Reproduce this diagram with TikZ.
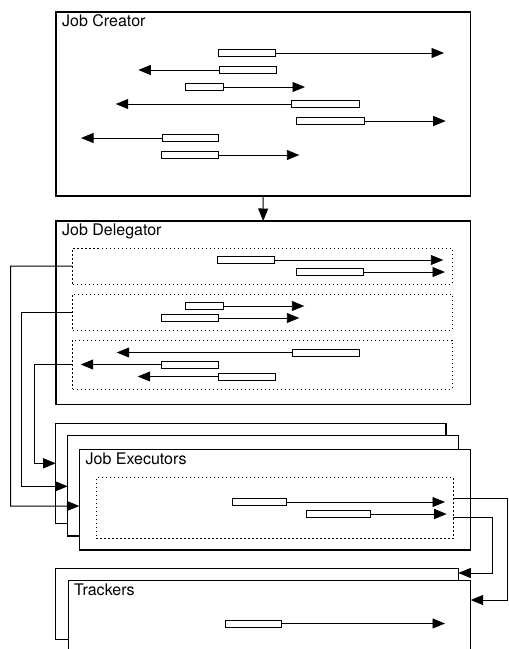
\documentclass[tikz,border=0pt]{standalone}
\usepackage{fontspec}
\setmainfont{TeX Gyre Heros}
\usetikzlibrary{arrows.meta}
\begin{document}
\begin{tikzpicture}[x=1pt,y=-1pt,
  box/.style={draw,fill=white,line width=1.1pt,inner sep=0pt,outer sep=0pt,anchor=north west},
  grp/.style={draw,line width=1pt,dash pattern=on 1.5pt off 2.5pt,inner sep=0pt,outer sep=0pt,anchor=north west},
  bar/.style={draw,fill=white,line width=0.9pt,inner sep=0pt,outer sep=0pt,minimum height=7pt,anchor=west},
  arr/.style={line width=0.9pt,-{Triangle[length=12.5pt,width=10pt]}},
  conn/.style={line width=1pt,-{Triangle[length=12.5pt,width=10pt]}},
  lbl/.style={anchor=base west,inner sep=0pt,font=\fontsize{16}{18}\selectfont}]
\useasboundingbox (0,0) rectangle (509,649);
\clip (0,0) rectangle (509,649);

% ---------- Job Creator ----------
\node[box,minimum width=414.5pt,minimum height=184pt] (creator) at (56,12) {};
\node[lbl] (creatorlbl) at (62,26) {Job Creator};
\node[bar,minimum width=56.7pt] (c1) at (218.3,53) {};
\node[bar,minimum width=56.7pt] (c2) at (219.3,70) {};
\node[bar,minimum width=38pt]   (c3) at (185.7,87) {};
\node[bar,minimum width=68pt]   (c4) at (291.3,104) {};
\node[bar,minimum width=67.6pt] (c5) at (296.7,121) {};
\node[bar,minimum width=56.7pt] (c6) at (162,138) {};
\node[bar,minimum width=57.4pt] (c7) at (161.3,155) {};
\coordinate (c1t) at (444,53);
\coordinate (c2t) at (138.3,70);
\coordinate (c3t) at (305,87);
\coordinate (c4t) at (115.7,104);
\coordinate (c5t) at (445.7,121);
\coordinate (c6t) at (81,138);
\coordinate (c7t) at (299.3,155);
\draw[arr] (c1.east) -- (c1t);
\draw[arr] (c2.west) -- (c2t);
\draw[arr] (c3.east) -- (c3t);
\draw[arr] (c4.west) -- (c4t);
\draw[arr] (c5.east) -- (c5t);
\draw[arr] (c6.west) -- (c6t);
\draw[arr] (c7.east) -- (c7t);

% ---------- Job Delegator ----------
\node[box,minimum width=414.3pt,minimum height=183.3pt] (deleg) at (56,221) {};
\node[lbl] (deleglbl) at (62,235) {Job Delegator};
\node[grp,minimum width=379.3pt,minimum height=35.7pt] (d1) at (72.7,248.3) {};
\node[grp,minimum width=379.3pt,minimum height=36pt]   (d2) at (72.7,294) {};
\node[grp,minimum width=379.3pt,minimum height=49pt]   (d3) at (72.7,340) {};
\node[bar,minimum width=56.6pt] (e1) at (217.7,260) {};
\node[bar,minimum width=67.7pt] (e2) at (296,272) {};
\node[bar,minimum width=38pt]   (e3) at (185.3,306) {};
\node[bar,minimum width=57pt]   (e4) at (161.3,318) {};
\node[bar,minimum width=67.7pt] (e5) at (292,352.5) {};
\node[bar,minimum width=56.6pt] (e6) at (161.7,364.5) {};
\node[bar,minimum width=56.6pt] (e7) at (218.7,376.5) {};
\coordinate (e1t) at (443.3,260);
\coordinate (e2t) at (445,272);
\coordinate (e3t) at (304.3,306);
\coordinate (e4t) at (299.3,318);
\coordinate (e5t) at (116.7,352.5);
\coordinate (e6t) at (80.7,364.5);
\coordinate (e7t) at (137.7,376.5);
\draw[arr] (e1.east) -- (e1t);
\draw[arr] (e2.east) -- (e2t);
\draw[arr] (e3.east) -- (e3t);
\draw[arr] (e4.east) -- (e4t);
\draw[arr] (e5.west) -- (e5t);
\draw[arr] (e6.west) -- (e6t);
\draw[arr] (e7.west) -- (e7t);

\draw[conn] (creator.south) -- (deleg.north);

% ---------- Job Executors ----------
\node[box,minimum width=390.3pt,minimum height=100.4pt] (exb1) at (55.7,423.3) {};
\node[box,minimum width=390.6pt,minimum height=100.3pt] (exb2) at (67.7,435.7) {};
\node[box,minimum width=391pt,minimum height=100.7pt]   (exf)  at (79.3,449.3) {};
\node[lbl] (exlbl) at (85.5,464.3) {Job Executors};
\node[grp,minimum width=357.3pt,minimum height=60.6pt] (exd) at (96,477.7) {};
\node[bar,minimum width=53.3pt] (x1) at (232.7,502) {};
\node[bar,minimum width=63.3pt] (x2) at (306.7,514) {};
\coordinate (x1t) at (445,502);
\coordinate (x2t) at (446.7,514);
\draw[arr] (x1.east) -- (x1t);
\draw[arr] (x2.east) -- (x2t);

% ---------- Trackers ----------
\node[box,minimum width=402.6pt,minimum height=71pt] (trb) at (55.7,568.3) {};
\node[box,minimum width=402.4pt,minimum height=90pt] (trf) at (68.3,580.7) {};
\node[lbl] (trlbl) at (74,595) {Trackers};
\node[bar,minimum width=55.3pt] (t1) at (225.7,623.5) {};
\coordinate (t1t) at (445,623.5);
\draw[arr] (t1.east) -- (t1t);

% ---------- connectors ----------
\draw[conn] (d1.west) -- (10.5,266.2) |- (exf.west |- 0,506);
\draw[conn] (d2.west) -- (21.5,312) |- (exb2.west |- 0,486.3);
\draw[conn] (d3.west) -- (34.5,364.5) |- (exb1.west |- 0,463.3);
\draw[conn] (exd.east |- 0,498.7) -- (507.5,498.7) |- (trf.east |- 0,600);
\draw[conn] (exd.east |- 0,517.3) -- (492.5,517.3) |- (trb.east |- 0,573);
\end{tikzpicture}
\end{document}
